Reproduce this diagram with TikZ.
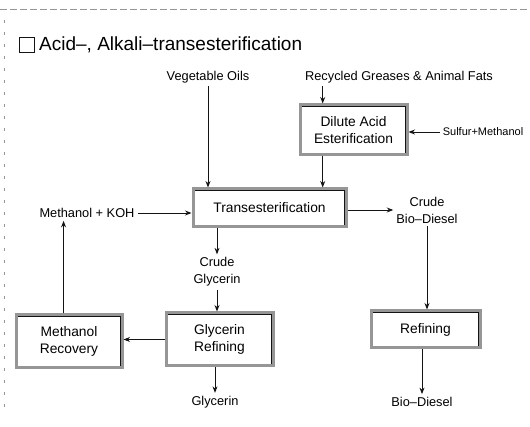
\documentclass[tikz,border=0pt]{standalone}
\usepackage{fontspec}
\setmainfont{Liberation Sans}
\usepackage{tikz}
\usetikzlibrary{arrows.meta,positioning,calc}
\definecolor{edge}{RGB}{20,20,20}
\definecolor{frame}{RGB}{150,150,150}
\newcommand{\lblfont}{\fontsize{12.8}{17}\selectfont}
\newcommand{\boxfont}{\fontsize{13.8}{17}\selectfont}
\tikzset{
  box/.style={draw=frame,line width=3pt,align=center,inner sep=0pt,font=\boxfont,
    append after command={\pgfextra{\draw[edge,line width=1.5pt]
      ($(\tikzlastnode.north west)+(2.8pt,-2.8pt)$) rectangle
      ($(\tikzlastnode.south east)+(-2.8pt,2.8pt)$);}}},
  lbl/.style={align=center,inner sep=3pt,font=\lblfont},
  flow/.style={-{Stealth[length=6.5pt,width=5pt]},line width=0.9pt,draw=edge},
}
\begin{document}
\begin{tikzpicture}[x=1pt,y=-1pt]
  \useasboundingbox (0,0) rectangle (530,427);
  % scanned page edges
  \draw[frame,line width=0.8pt,dash pattern=on 7pt off 3pt] (0,9) -- (530,9);
  \draw[frame,line width=0.6pt,dash pattern=on 3pt off 9pt] (4,20) -- (4,410);

  % title
  \node[draw=edge,line width=0.9pt,minimum size=15pt,inner sep=0pt] (tick) at (26.5,44.5) {};
  \node[anchor=west,inner sep=0pt,font=\fontsize{19}{22}\selectfont] (title) at (39,44.5)
    {Acid–, Alkali–transesterification};

  % inputs
  \node[lbl] (veg) at (208,77) {Vegetable Oils};
  \node[lbl] (recyc) at (399,77) {Recycled Greases \& Animal Fats};
  \node[box,minimum width=107pt,minimum height=50pt] (dilute) at (353.5,130)
    {Dilute Acid\\Esterification};
  \node[lbl,font=\fontsize{11}{13}\selectfont] (sulfur) at (483,132) {Sulfur+Methanol};

  % main stage
  \node[box,minimum width=153pt,minimum height=38pt] (trans) at (269.5,208) {Transesterification};
  \node[lbl] (mkoh) at (87,213) {Methanol + KOH};
  \node[lbl] (cbd) at (427,210) {Crude\\Bio–Diesel};
  \node[lbl] (cgly) at (217,272) {Crude\\Glycerin};

  % lower stages
  \node[box,minimum width=106pt,minimum height=53pt] (mrec) at (69,341.5) {Methanol\\Recovery};
  \node[box,minimum width=107pt,minimum height=53pt] (gref) at (219.5,339.5) {Glycerin\\Refining};
  \node[box,minimum width=109pt,minimum height=37pt] (refine) at (425.5,329.5) {Refining};
  \node[lbl] (gly) at (215,402) {Glycerin};
  \node[lbl] (bd) at (422,402) {Bio–Diesel};

  \coordinate (dtop) at ($(dilute.north west)!0.22!(dilute.north east)$);
  \coordinate (mtop) at ($(mrec.north west)!0.45!(mrec.north east)$);

  \draw[flow] (veg.south) -- (veg.south |- trans.north);
  \draw[flow] (dtop |- recyc.south) -- (dtop);
  \draw[flow] (sulfur.west) -- (dilute.east |- sulfur.west);
  \draw[flow] (dtop |- dilute.south) -- (dtop |- trans.north);
  \draw[flow] (mkoh.east) -- (trans.west |- mkoh.east);
  \draw[flow] (trans.east |- cbd.west) -- (cbd.west);
  \draw[flow] (cgly.north |- trans.south) -- (cgly.north);
  \draw[flow] (cgly.south) -- (cgly.south |- gref.north);
  \draw[flow] (gref.south -| gly.north) -- (gly.north);
  \draw[flow] (gref.west) -- (mrec.east |- gref.west);
  \draw[flow] (mtop) -- (mtop |- mkoh.south);
  \draw[flow] (cbd.south) -- (cbd.south |- refine.north);
  \draw[flow] (refine.south -| bd.north) -- (bd.north);
\end{tikzpicture}
\end{document}
